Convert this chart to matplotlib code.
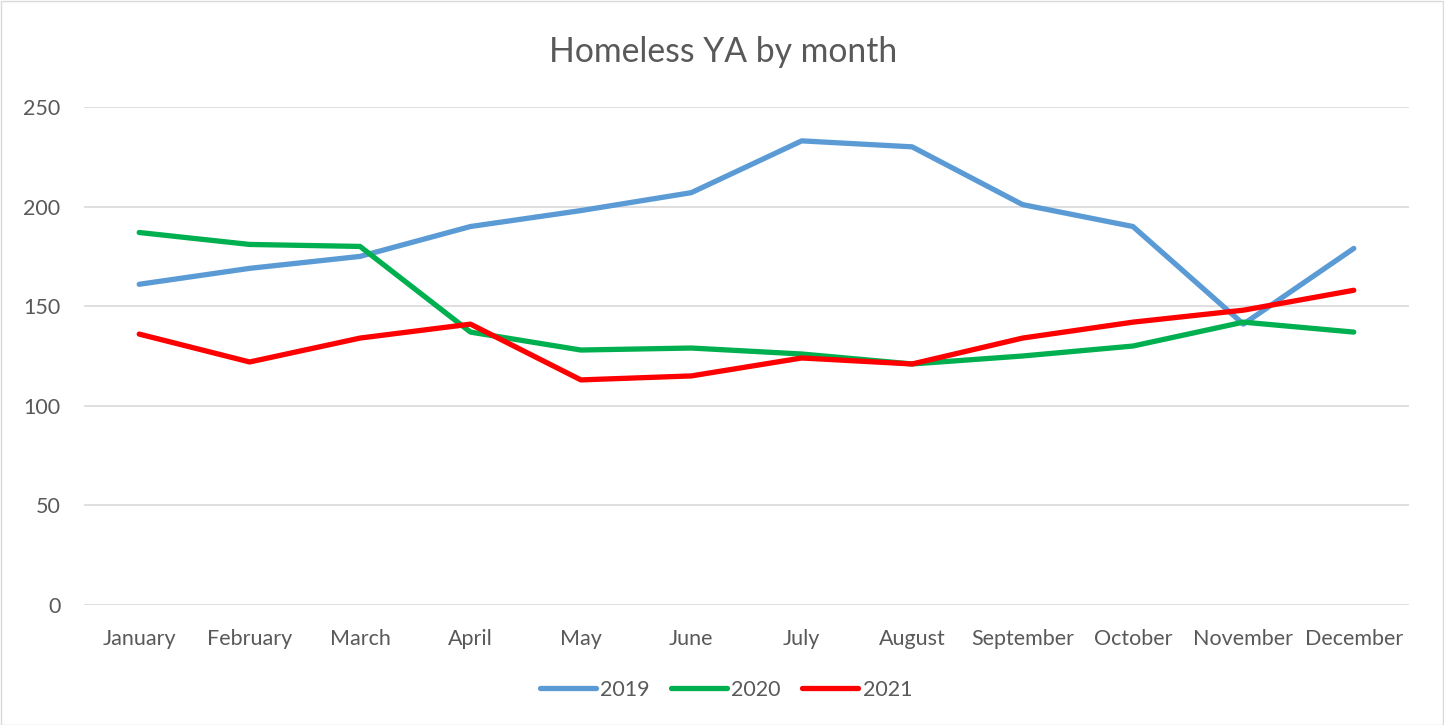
import numpy as np
import matplotlib.pyplot as plt
from matplotlib.patches import Rectangle

months = ['January', 'February', 'March', 'April', 'May', 'June', 'July',
          'August', 'September', 'October', 'November', 'December']
ya_2019 = [161, 169, 175, 190, 198, 207, 233, 230, 201, 190, 141, 179]
ya_2020 = [187, 181, 180, 137, 128, 129, 126, 121, 125, 130, 142, 137]
ya_2021 = [136, 122, 134, 141, 113, 115, 124, 121, 134, 142, 148, 158]
yticks = [0, 50, 100, 150, 200, 250]

plt.rcParams['font.family'] = ['Lato', 'DejaVu Sans']
text_col = '#595959'

fig = plt.figure(figsize=(14.44, 7.25), dpi=100)
# axes box in pixels: x 84..1409, y 107..605 (from top)
W, H = 1444, 725
ax = fig.add_axes([84 / W, 1 - 605 / H, (1409 - 84) / W, (605 - 107) / H])

x = np.arange(len(months))
ax.plot(x, ya_2019, color='#5b9bd5', lw=3.8, solid_capstyle='round', label='2019')
ax.plot(x, ya_2020, color='#00b050', lw=3.8, solid_capstyle='round', label='2020')
ax.plot(x, ya_2021, color='#ff0000', lw=3.8, solid_capstyle='round', label='2021')

ax.set_xlim(-0.5, len(months) - 0.5)
ax.set_ylim(0, 250)
ax.set_yticks(yticks)
ax.set_xticks(x)
ax.set_xticklabels(months)
ax.grid(axis='y', color='#d9d9d9', lw=1.2)
ax.set_axisbelow(True)
for s in ax.spines.values():
    s.set_visible(False)
ax.tick_params(axis='both', length=0, labelsize=15.5, colors=text_col)
ax.tick_params(axis='x', pad=17)
ax.tick_params(axis='y', pad=17)

fig.text(723 / W, 1 - 52 / H, 'Homeless YA by month', ha='center', va='center',
         fontsize=24.3, color=text_col)

leg = fig.legend(loc='center', bbox_to_anchor=(726 / W, 1 - 690 / H), ncol=3,
                 frameon=False, fontsize=15.5, handlelength=2.6, handletextpad=0.2,
                 columnspacing=1.0)
for t in leg.get_texts():
    t.set_color(text_col)

fig.patches.append(Rectangle((0.5 / W, 0.5 / H), 1 - 1.5 / W, 1 - 1.5 / H,
                             transform=fig.transFigure, fill=False,
                             edgecolor='#d9d9d9', lw=1))

fig.savefig('out.png', dpi=100)
